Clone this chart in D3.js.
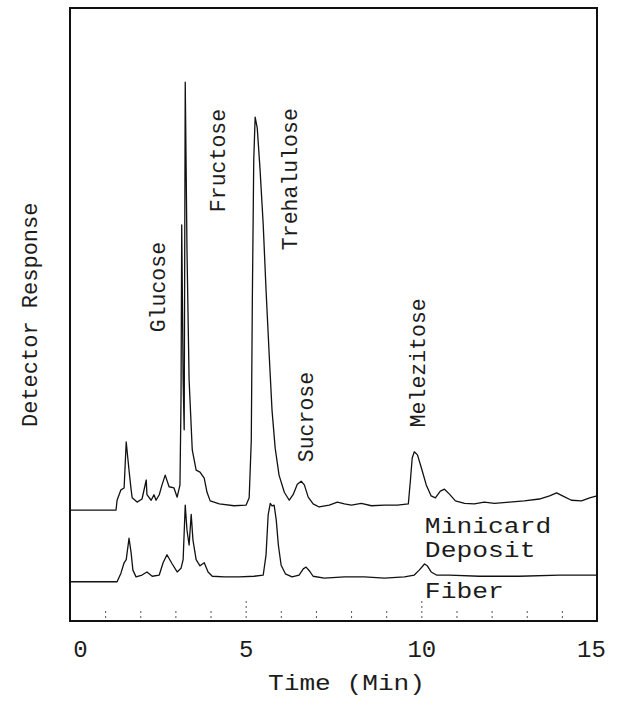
<!DOCTYPE html>
<html>
<head>
<meta charset="utf-8">
<script src="https://cdn.jsdelivr.net/npm/d3@7"></script>
<style>
  body { margin: 0; background: #fff; }
  svg text { font-family: "Liberation Mono", "DejaVu Sans Mono", monospace; fill: #1c1c1c; }
</style>
</head>
<body>
<svg id="chart" width="623" height="708"></svg>
<script>
// Minicard deposit trace (upper): retention time in min, detector response (arb. units)
const minicardTime = [0, 1.31, 1.34, 1.45, 1.54, 1.60, 1.68, 1.74, 1.77, 1.91, 2.05, 2.17, 2.19, 2.31, 2.39,
  2.45, 2.54, 2.62, 2.71, 2.82, 2.96, 3.05, 3.13, 3.16, 3.18, 3.22, 3.25, 3.28, 3.33, 3.39, 3.48, 3.59,
  3.70, 3.82, 3.90, 3.99, 4.25, 4.67, 5.01, 5.10, 5.16, 5.19, 5.23, 5.27, 5.33, 5.41, 5.50, 5.58, 5.67,
  5.75, 5.84, 5.95, 6.10, 6.24, 6.35, 6.47, 6.58, 6.67, 6.78, 6.92, 7.09, 7.38, 7.61, 7.81, 8.01, 8.29,
  8.58, 8.95, 9.32, 9.63, 9.69, 9.74, 9.80, 9.89, 10.00, 10.14, 10.28, 10.40, 10.54, 10.66, 10.80, 10.97,
  11.23, 11.51, 11.79, 12.08, 12.51, 12.93, 13.36, 13.65, 13.85, 14.02, 14.27, 14.56, 14.79, 15.0];
const minicardResp = [18.1, 18.1, 19.7, 21.4, 21.7, 29.2, 24.6, 21.4, 20.1, 19.4, 19.9, 23.0, 20.6, 19.7, 20.6,
  19.7, 20.6, 22.2, 23.8, 21.9, 21.7, 20.2, 22.2, 36.1, 64.6, 39.3, 31.2, 87.9, 60.5, 39.3, 27.9, 24.6,
  24.3, 23.3, 21.0, 19.6, 19.1, 18.8, 18.9, 20.1, 29.5, 52.4, 75.2, 82.2, 80.4, 73.6, 64.6, 54.0, 43.4,
  34.4, 28.2, 23.8, 21.0, 19.7, 20.6, 22.3, 22.8, 22.2, 20.2, 19.1, 18.6, 18.9, 19.4, 19.1, 18.9, 19.2,
  18.8, 18.9, 18.9, 19.1, 23.0, 26.6, 27.6, 27.1, 25.0, 22.2, 20.4, 20.1, 21.2, 21.5, 20.7, 19.6,
  19.2, 19.1, 19.4, 19.2, 19.4, 19.6, 19.9, 20.4, 20.9, 20.4, 19.7, 19.6, 20.1, 20.4];

// Fiber trace (lower)
const fiberTime = [0, 1.34, 1.45, 1.54, 1.60, 1.68, 1.74, 1.79, 1.88, 2.05, 2.19, 2.34, 2.54, 2.65, 2.76,
  2.91, 3.05, 3.16, 3.22, 3.28, 3.33, 3.39, 3.45, 3.50, 3.59, 3.70, 3.82, 3.93, 4.05, 4.39, 4.81, 5.24,
  5.50, 5.58, 5.64, 5.70, 5.75, 5.81, 5.87, 5.93, 6.01, 6.13, 6.32, 6.52, 6.64, 6.72, 6.81, 6.92, 7.24,
  7.81, 8.38, 8.95, 9.52, 9.80, 9.94, 10.09, 10.17, 10.28, 10.43, 10.80, 11.65, 12.79, 13.93, 15.0];
const fiberResp = [6.4, 6.4, 7.8, 9.5, 10.0, 13.5, 11.1, 8.3, 7.2, 7.5, 8.0, 7.3, 7.5, 9.5, 10.8,
  9.3, 8.0, 8.6, 10.0, 18.9, 14.8, 12.4, 17.4, 13.2, 10.0, 9.0, 9.5, 8.0, 7.3, 7.2, 7.2, 7.3,
  7.5, 10.8, 17.3, 19.2, 18.8, 18.9, 16.5, 12.4, 9.1, 7.7, 7.2, 7.5, 8.5, 8.8, 8.2, 7.3, 7.0,
  7.2, 7.2, 7.0, 7.2, 7.5, 8.3, 9.3, 9.0, 8.0, 7.5, 7.5, 7.3, 7.3, 7.5, 7.5];

const axisTicks = [0, 5, 10, 15];
const minorTicks = d3.range(1, 15);

// peak names, anchored (time, response) at the bottom of each rotated label
const peakNames = ["Glucose", "Fructose", "Trehalulose", "Sucrose", "Melezitose"];
const peakLabelTime = [2.69, 4.41, 6.46, 6.91, 10.1];
const peakLabelResp = [47.1, 66.7, 60.5, 25.9, 31.6];

// trace names under each trace
const traceNames = ["Minicard", "Deposit", "Fiber"];
const traceLabelTime = [10.1, 10.1, 10.1];
const traceLabelResp = [14.4, 10.4, 3.8];

const svg = d3.select("#chart");
const frame = {left: 70, right: 597, top: 8, bottom: 621};

const x = d3.scaleLinear().domain([0, 15]).range([frame.left, frame.right]);
const y = d3.scaleLinear().domain([0, 100]).range([frame.bottom, frame.top]);

// box around the plot
svg.append("rect")
  .attr("x", frame.left).attr("y", frame.top)
  .attr("width", frame.right - frame.left)
  .attr("height", frame.bottom - frame.top)
  .attr("fill", "none").attr("stroke", "#111").attr("stroke-width", 2);

// small dashed minute marks inside the bottom of the box
const minor = svg.append("g")
  .attr("transform", `translate(0,${frame.bottom})`)
  .call(d3.axisTop(x).tickValues(minorTicks).tickSize(10).tickFormat(""));
minor.select(".domain").remove();
minor.selectAll(".tick line")
  .attr("stroke", "#555")
  .attr("stroke-dasharray", "2,3")
  .attr("y1", -3)
  .attr("y2", d => (d % 5 === 0 ? -20 : -12));

// tick labels
const major = svg.append("g")
  .attr("transform", `translate(0,${frame.bottom})`)
  .call(d3.axisBottom(x).tickValues(axisTicks).tickSize(0).tickPadding(19));
major.select(".domain").remove();
major.selectAll(".tick text")
  .style("font-size", "24px")
  .attr("fill", "#1c1c1c")
  .attr("dx", d => (d === 0 ? 10 : d === 15 ? -6 : 0));

// traces
const line = d3.line()
  .x(d => x(d[0]))
  .y(d => y(d[1]));

svg.append("path")
  .datum(d3.zip(minicardTime, minicardResp))
  .attr("d", line)
  .attr("fill", "none").attr("stroke", "#111").attr("stroke-width", 1.3)
  .attr("stroke-linejoin", "round");

svg.append("path")
  .datum(d3.zip(fiberTime, fiberResp))
  .attr("d", line)
  .attr("fill", "none").attr("stroke", "#111").attr("stroke-width", 1.3)
  .attr("stroke-linejoin", "round");

// peak labels, rotated
peakNames.forEach((name, i) => {
  const px = x(peakLabelTime[i]), py = y(peakLabelResp[i]);
  svg.append("text")
    .attr("transform", `translate(${px},${py}) rotate(-90)`)
    .style("font-size", "21.5px")
    .text(name);
});

// trace names
traceNames.forEach((name, i) => {
  svg.append("text")
    .attr("x", x(traceLabelTime[i]))
    .attr("y", y(traceLabelResp[i]))
    .style("font-size", "22px")
    .attr("textLength", name.length * 15.8)
    .attr("lengthAdjust", "spacingAndGlyphs")
    .text(name);
});

// axis titles
svg.append("text")
  .attr("transform", "translate(37,427) rotate(-90)")
  .style("font-size", "22px")
  .text("Detector Response");

svg.append("text")
  .attr("x", 268).attr("y", 690)
  .style("font-size", "22px")
  .attr("textLength", 157)
  .attr("lengthAdjust", "spacingAndGlyphs")
  .text("Time (Min)");
</script>
</body>
</html>
